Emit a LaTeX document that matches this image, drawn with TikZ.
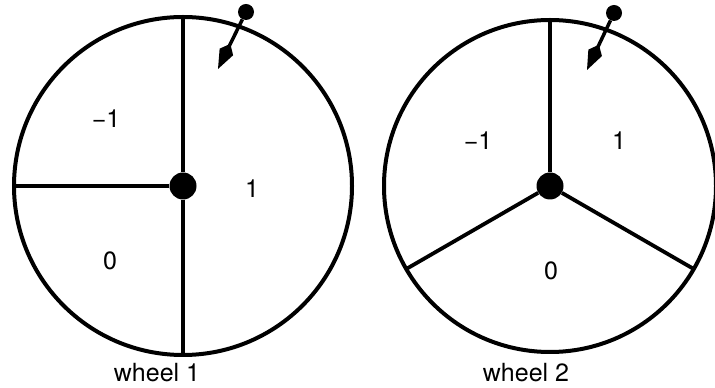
\documentclass[tikz,border=0pt]{standalone}
\usepackage{fontspec}
\setmainfont{TeX Gyre Heros}
\usepackage{tikz}
\usetikzlibrary{calc}
\usetikzlibrary{arrows.meta}

\begin{document}
\begin{tikzpicture}[x=1pt,y=1pt]
  \tikzset{every node/.style={font=\fontsize{25}{30}\selectfont,text centered,inner sep=0pt}};
  \tikzset{rim/.style={line width=4pt},spoke/.style={line width=3.8pt},
    hub/.style={shape=circle,fill,minimum size=27pt},
    knob/.style={shape=circle,fill,minimum size=16pt},
    pointer/.style={line width=3.5pt,-{Kite[length=28pt,width=15pt,inset=9pt]}}};
  \useasboundingbox (0,0) rectangle (715,388);
  % wheel 1
  \node [hub] (c1) at (183,202) {};
  \path[draw,rim] (c1.center) circle (169pt);
  \path[draw,spoke] (c1) -- ($(c1.center)+(90:169pt)$) coordinate (t1);
  \path[draw,spoke] (c1) -- ($(c1.center)+(270:169pt)$) coordinate (b1);
  \path[draw,spoke] (c1) -- ($(c1.center)+(180:169pt)$) coordinate (l1);
  \node (m1) at (106,269) {−1};
  \node (z1) at (110,127) {0};
  \node (o1) at (252,199) {1};
  \node [anchor=base] (w1) at (157,6) {wheel 1};
  \node [knob] (k1) at (246,376) {};
  \coordinate (tip1) at (218,319);
  \path[draw,pointer] (k1) -- (tip1);
  % wheel 2
  \node [hub] (c2) at (550,202) {};
  \path[draw,rim] (c2.center) circle (166pt);
  \path[draw,spoke] (c2) -- ($(c2.center)+(90:166pt)$) coordinate (t2);
  \path[draw,spoke] (c2) -- ($(c2.center)+(210:166pt)$) coordinate (l2);
  \path[draw,spoke] (c2) -- ($(c2.center)+(330:166pt)$) coordinate (r2);
  \node (m2) at (478,247) {−1};
  \node (o2) at (619,247) {1};
  \node (z2) at (551,117) {0};
  \node [anchor=base] (w2) at (526,6) {wheel 2};
  \node [knob] (k2) at (614,375) {};
  \coordinate (tip2) at (587,318);
  \path[draw,pointer] (k2) -- (tip2);
\end{tikzpicture}
\end{document}
